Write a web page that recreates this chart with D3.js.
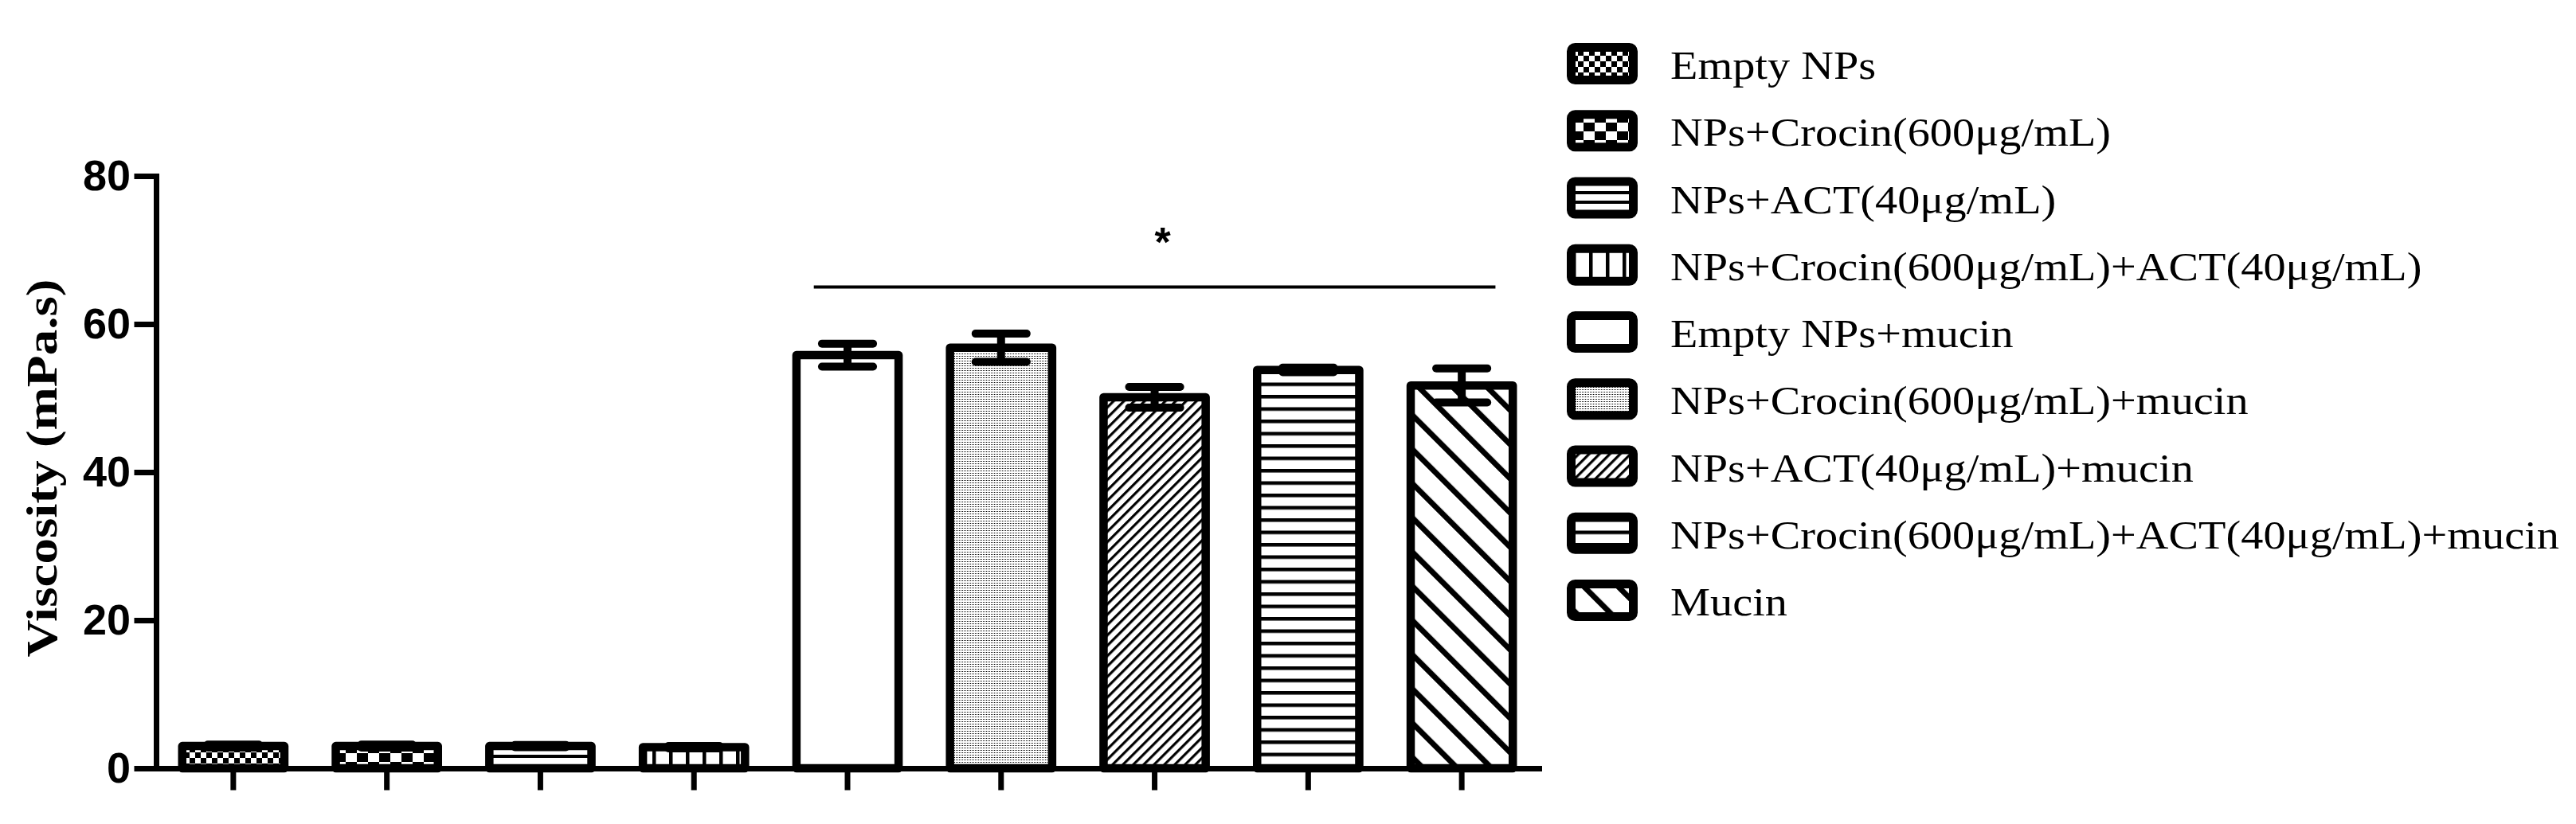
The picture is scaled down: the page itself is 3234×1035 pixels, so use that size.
<!DOCTYPE html>
<html>
<head>
<meta charset="utf-8">
<script src="https://cdn.jsdelivr.net/npm/d3@7"></script>
<style>
  body { margin: 0; background: #fff; }
</style>
</head>
<body>
<script>
// groups, in plotting order
const categories = [
  "Empty NPs",
  "NPs+Crocin(600μg/mL)",
  "NPs+ACT(40μg/mL)",
  "NPs+Crocin(600μg/mL)+ACT(40μg/mL)",
  "Empty NPs+mucin",
  "NPs+Crocin(600μg/mL)+mucin",
  "NPs+ACT(40μg/mL)+mucin",
  "NPs+Crocin(600μg/mL)+ACT(40μg/mL)+mucin",
  "Mucin"
];
// viscosity mean and error (mPa.s)
const means = [3.0, 3.0, 3.0, 2.85, 55.8, 56.8, 50.1, 53.8, 51.7];
const errors = [0.2, 0.2, 0.15, 0.15, 1.55, 1.9, 1.4, 0.3, 2.3];
const yTicks = [0, 20, 40, 60, 80];
// significance bracket: from group 5 to group 9
const sigFrom = 4, sigTo = 8, sigLineValue = 65, sigStarValue = 72.3, sigMark = "*";

const W = 3234, H = 1035;
const svg = d3.select("body").append("svg").attr("width", W).attr("height", H);
const defs = svg.append("defs");

// ---- fill patterns (black & white, like the original) ----
function stripes(id, period, thick, angle) {
  const p = defs.append("pattern").attr("id", id)
    .attr("patternUnits", "userSpaceOnUse")
    .attr("width", period).attr("height", period)
    .attr("patternTransform", "rotate(" + angle + ")");
  p.append("rect").attr("width", period).attr("height", period).attr("fill", "#fff");
  p.append("rect").attr("width", thick).attr("height", period).attr("fill", "#000");
}
function checker(id, w, h) {
  const p = defs.append("pattern").attr("id", id)
    .attr("patternUnits", "userSpaceOnUse")
    .attr("width", 2 * w).attr("height", 2 * h);
  p.append("rect").attr("width", 2 * w).attr("height", 2 * h).attr("fill", "#fff");
  p.append("rect").attr("width", w).attr("height", h).attr("fill", "#000");
  p.append("rect").attr("x", w).attr("y", h).attr("width", w).attr("height", h).attr("fill", "#000");
}
function dots(id) {
  const p = defs.append("pattern").attr("id", id)
    .attr("patternUnits", "userSpaceOnUse")
    .attr("width", 2).attr("height", 3);
  p.append("rect").attr("width", 2).attr("height", 3).attr("fill", "#fff");
  p.append("rect").attr("width", 1).attr("height", 1).attr("fill", "#000");
}
checker("p0", 7, 7);
checker("p1", 14, 11);
stripes("p2", 12, 4, 90);
stripes("p3", 21, 4.5, 0);
dots("p5");
stripes("p6", 9.2, 3.2, 45);
stripes("p7", 15.5, 4.5, 90);
stripes("p8", 30.4, 7, -45);
const fills = ["url(#p0)", "url(#p1)", "url(#p2)", "url(#p3)", "#fff",
               "url(#p5)", "url(#p6)", "url(#p7)", "url(#p8)"];

// ---- scales ----
const x = d3.scaleBand().domain(categories).range([196, 1932])
  .paddingInner(0.335).paddingOuter(0.17);
const y = d3.scaleLinear().domain([0, 80]).range([965, 221]);

const data = categories.map((c, i) => ({cat: c, mean: means[i], err: errors[i], fill: fills[i]}));

// bars
svg.append("g").selectAll("rect")
  .data(data).enter().append("rect")
  .attr("x", d => x(d.cat))
  .attr("y", d => y(d.mean))
  .attr("width", x.bandwidth())
  .attr("height", d => y(0) - y(d.mean))
  .attr("fill", d => d.fill)
  .attr("stroke", "#000")
  .attr("stroke-width", 10.5)
  .attr("stroke-linejoin", "round");

// error bars
const cap = x.bandwidth() * 0.25;
const eb = svg.append("g").attr("stroke", "#000").attr("stroke-width", 10).attr("stroke-linecap", "round");
data.forEach(d => {
  const cx = x(d.cat) + x.bandwidth() / 2;
  eb.append("line").attr("x1", cx).attr("x2", cx)
    .attr("y1", y(d.mean + d.err)).attr("y2", y(d.mean - d.err)).attr("stroke-linecap", "butt");
  [d.mean + d.err, d.mean - d.err].forEach(v => {
    eb.append("line").attr("x1", cx - cap).attr("x2", cx + cap)
      .attr("y1", y(v)).attr("y2", y(v));
  });
});

// axes
const yAxis = svg.append("g").attr("transform", "translate(196,0)")
  .call(d3.axisLeft(y).tickValues(yTicks).tickSize(24).tickSizeOuter(0).tickPadding(8));
const xAxis = svg.append("g").attr("transform", "translate(0," + y(0) + ")")
  .call(d3.axisBottom(x).tickSize(24).tickSizeOuter(0).tickFormat(""));
[yAxis, xAxis].forEach(a => {
  a.selectAll("path, line").attr("stroke", "#000").attr("stroke-width", 7)
    .attr("stroke-linecap", "square");
});
yAxis.selectAll("text")
  .attr("font-family", "'Liberation Sans', Arial, sans-serif")
  .attr("font-weight", "bold").attr("font-size", 54).attr("fill", "#000");

// y axis title
svg.append("text")
  .attr("transform", "translate(71,588) rotate(-90)")
  .attr("text-anchor", "middle")
  .attr("font-family", "'Liberation Serif', 'Times New Roman', serif")
  .attr("font-weight", "bold").attr("font-size", 54)
  .attr("textLength", 475).attr("lengthAdjust", "spacingAndGlyphs")
  .text("Viscosity (mPa.s)");

// significance bracket
const sx1 = x(categories[sigFrom]) + x.bandwidth() * 0.17;
const sx2 = x(categories[sigTo]) + x.bandwidth() * 0.83;
svg.append("line").attr("x1", sx1).attr("x2", sx2)
  .attr("y1", y(sigLineValue)).attr("y2", y(sigLineValue))
  .attr("stroke", "#000").attr("stroke-width", 4);
svg.append("text")
  .attr("x", (sx1 + sx2) / 2 + 10).attr("y", y(sigStarValue) + 29)
  .attr("text-anchor", "middle")
  .attr("font-family", "'Liberation Sans', Arial, sans-serif")
  .attr("font-weight", "bold").attr("font-size", 52)
  .text(sigMark);

// legend
const legend = svg.append("g");
const rowH = 84.25, row0 = 80;
data.forEach((d, i) => {
  const cy = row0 + i * rowH;
  legend.append("rect")
    .attr("x", 1972.5).attr("y", cy - 20.5).attr("width", 78).attr("height", 41)
    .attr("rx", 5).attr("fill", d.fill)
    .attr("stroke", "#000").attr("stroke-width", 11).attr("stroke-linejoin", "round");
  legend.append("text").attr("class", "lab")
    .attr("x", 2097).attr("y", cy + 19)
    .attr("font-family", "'Liberation Serif', 'Times New Roman', serif")
    .attr("font-size", 50)
    .text(d.cat);
});
// the original face is wider than Times; stretch labels evenly
const labs = legend.selectAll("text.lab");
let longest = 0;
labs.each(function() { longest = Math.max(longest, this.getComputedTextLength()); });
const k = 1116 / longest;
labs.each(function() {
  d3.select(this).attr("textLength", this.getComputedTextLength() * k)
    .attr("lengthAdjust", "spacingAndGlyphs");
});
</script>
</body>
</html>
